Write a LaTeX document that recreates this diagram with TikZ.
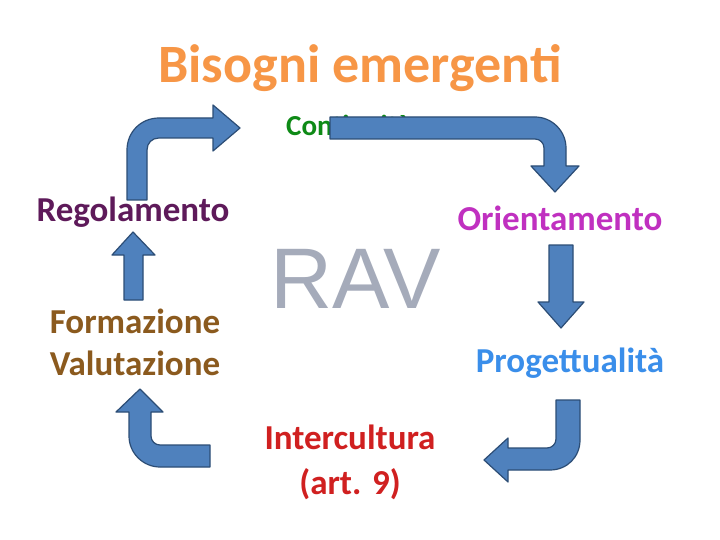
\documentclass[tikz,border=0pt]{standalone}
\usepackage{fontspec}
\setmainfont{Carlito}
\newfontfamily\ravfont{Liberation Sans}
\definecolor{arrowfill}{HTML}{4F81BD}
\definecolor{arrowline}{HTML}{2C4D75}
\definecolor{titleor}{HTML}{F79646}
\definecolor{contgreen}{HTML}{0E8A16}
\definecolor{regpurple}{HTML}{5E1A5A}
\definecolor{orimag}{HTML}{C030C0}
\definecolor{formbrown}{HTML}{8B5A1E}
\definecolor{progblue}{HTML}{3A8EEA}
\definecolor{intred}{HTML}{D02020}
\definecolor{ravgray}{HTML}{A5ABBA}
\begin{document}
\begin{tikzpicture}[x=1pt,y=-1pt,
  arr/.style={fill=arrowfill,draw=arrowline,line width=1.2pt,line join=round},
  lbl/.style={font=\bfseries\fontsize{35}{42}\selectfont,align=center,inner sep=0pt}]
\useasboundingbox (0,0) rectangle (720,540);
\fill[white] (0,0) rectangle (720,540);
% texts
\node[lbl,text=titleor,font=\bfseries\fontsize{54}{60}\selectfont] (title) at (360,68) {Bisogni emergenti};
\node[lbl,text=contgreen,font=\bfseries\fontsize{29}{34}\selectfont] (cont) at (349,125) {Continuità};
\node[lbl,text=regpurple] (reg) at (133,212) {Regolamento};
\node[lbl,text=orimag] (ori) at (560,218) {Orientamento};
\node[inner sep=0pt,text=ravgray,font=\ravfont\fontsize{86}{90}\selectfont] (rav) at (356,279) {RAV};
\node[lbl,text=formbrown] (form) at (135,342) {Formazione\\Valutazione};
\node[lbl,text=progblue] (prog) at (570,363) {Progettualità};
\node[lbl,text=intred,font=\bfseries\fontsize{35}{45}\selectfont] (int) at (350,462) {Intercultura\\(art. 9)};
% top-left bent arrow
\draw[arr] (127,200) -- (127,150) .. controls (127,132) and (141,118) .. (159,118) -- (213,118) -- (213,105) -- (240,128) -- (213,151) -- (213,138) -- (159,138) .. controls (152,138) and (147,143) .. (147,150) -- (147,200) -- cycle;
% top-right bent arrow
\draw[arr] (330,117) -- (535,117) .. controls (552,117) and (566,131) .. (566,148) -- (566,166) -- (579,166) -- (555,192) -- (531,166) -- (544,166) -- (544,148) .. controls (544,143) and (540,139) .. (535,139) -- (330,139) -- cycle;
% right down arrow
\draw[arr] (549,245) -- (573,245) -- (573,302) -- (584,302) -- (561,328) -- (538,302) -- (549,302) -- cycle;
% bottom-right bent arrow
\draw[arr] (556,400) -- (580,400) -- (580,440) .. controls (580,457) and (567,470) .. (550,470) -- (508,470) -- (508,482) -- (484,460) -- (508,438) -- (508,448) -- (547,448) .. controls (552,448) and (556,444) .. (556,439) -- cycle;
% bottom-left bent arrow
\draw[arr] (129,412) -- (116,412) -- (140,389) -- (163,412) -- (151,412) -- (151,436) .. controls (151,441) and (155,445) .. (160,445) -- (210,445) -- (210,467) -- (160,467) .. controls (143,467) and (129,453) .. (129,436) -- cycle;
% left up arrow
\draw[arr] (124,300) -- (124,255) -- (112,255) -- (133,232) -- (155,255) -- (143,255) -- (143,300) -- cycle;
\end{tikzpicture}
\end{document}
